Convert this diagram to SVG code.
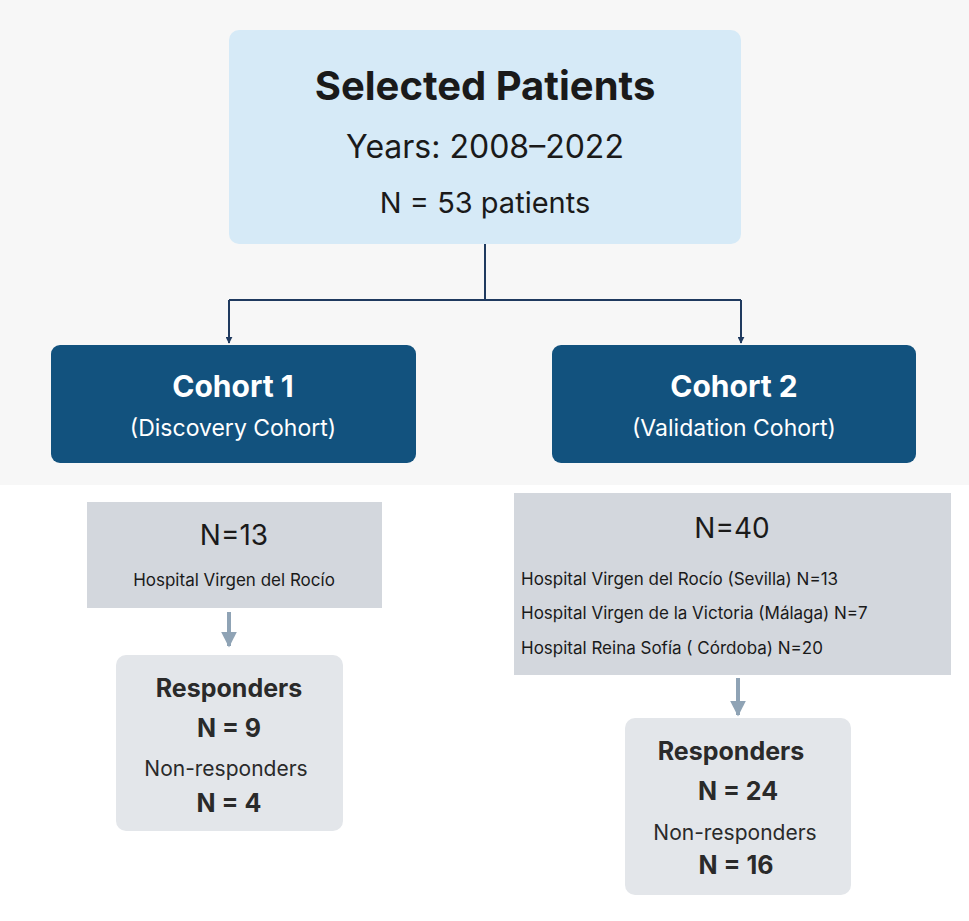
<svg xmlns="http://www.w3.org/2000/svg" width="969" height="921" viewBox="0 0 969 921">
<defs>
<style>
text{font-family:"Inter","Liberation Sans",sans-serif;text-anchor:middle;fill:#1a1a1a}
.coh{fill:#12527e}
.ct{fill:#fff;font-weight:bold;font-size:30px}
.cs{fill:#fff;font-size:23px}
.gray{fill:#d3d7dd}
.res{fill:#e3e6ea}
.rb{font-weight:bold;font-size:25px;fill:#2a2a2a}
.rn{font-size:21px;fill:#2a2a2a}
.h{font-size:17px;text-anchor:start}
</style>
<marker id="ad" viewBox="0 0 10 10" refX="9" refY="5" markerWidth="7" markerHeight="7" orient="auto" markerUnits="userSpaceOnUse"><path d="M0,0 L10,5 L0,10 z" fill="#1f3a5f"/></marker>
<marker id="ag" viewBox="0 0 10 10" refX="9" refY="5" markerWidth="4" markerHeight="4" orient="auto"><path d="M0,0 L10,5 L0,10 z" fill="#8fa3b5"/></marker>
</defs>
<rect width="969" height="921" fill="#fff"/>
<rect width="969" height="485" fill="#f7f7f7"/>
<g id="selected">
<rect x="229" y="30" width="512" height="214" rx="10" fill="#d6eaf7"/>
<text x="485" y="100" font-size="40" font-weight="bold">Selected Patients</text>
<text x="485" y="158" font-size="32">Years: 2008–2022</text>
<text x="485" y="213" font-size="29">N = 53 patients</text>
</g>
<g id="connectors" fill="none">
<path d="M485,244 V300 M229,300 H741" stroke="#1f3a5f" stroke-width="2"/>
<path d="M229,300 V343" stroke="#1f3a5f" stroke-width="2" marker-end="url(#ad)"/>
<path d="M741,300 V343" stroke="#1f3a5f" stroke-width="2" marker-end="url(#ad)"/>
<path d="M229,612 V646" stroke="#8fa3b5" stroke-width="4" marker-end="url(#ag)"/>
<path d="M738,678 V715" stroke="#8fa3b5" stroke-width="4" marker-end="url(#ag)"/>
</g>
<g id="cohort1">
<rect class="coh" x="51" y="345" width="365" height="118" rx="9"/>
<text class="ct" x="233" y="397">Cohort 1</text>
<text class="cs" x="233" y="436">(Discovery Cohort)</text>
</g>
<g id="cohort2">
<rect class="coh" x="552" y="345" width="364" height="118" rx="9"/>
<text class="ct" x="734" y="397">Cohort 2</text>
<text class="cs" x="734" y="436">(Validation Cohort)</text>
</g>
<g id="n13">
<rect class="gray" x="87" y="502" width="295" height="106"/>
<text x="234" y="545" font-size="28">N=13</text>
<text x="234" y="586" font-size="17">Hospital Virgen del Rocío</text>
</g>
<g id="n40">
<rect class="gray" x="514" y="493" width="437" height="182"/>
<text x="732" y="538" font-size="28">N=40</text>
<text class="h" x="521" y="585">Hospital Virgen del Rocío (Sevilla) N=13</text>
<text class="h" x="521" y="619">Hospital Virgen de la Victoria (Málaga) N=7</text>
<text class="h" x="521" y="654">Hospital Reina Sofía ( Córdoba) N=20</text>
</g>
<g id="resp1">
<rect class="res" x="116" y="655" width="227" height="176" rx="10"/>
<text class="rb" x="229" y="697">Responders</text>
<text class="rb" x="229" y="737">N = 9</text>
<text class="rn" x="226" y="776">Non-responders</text>
<text class="rb" x="229" y="812">N = 4</text>
</g>
<g id="resp2">
<rect class="res" x="625" y="718" width="226" height="177" rx="10"/>
<text class="rb" x="731" y="760">Responders</text>
<text class="rb" x="738" y="800">N = 24</text>
<text class="rn" x="735" y="840">Non-responders</text>
<text class="rb" x="736" y="874">N = 16</text>
</g>
</svg>
